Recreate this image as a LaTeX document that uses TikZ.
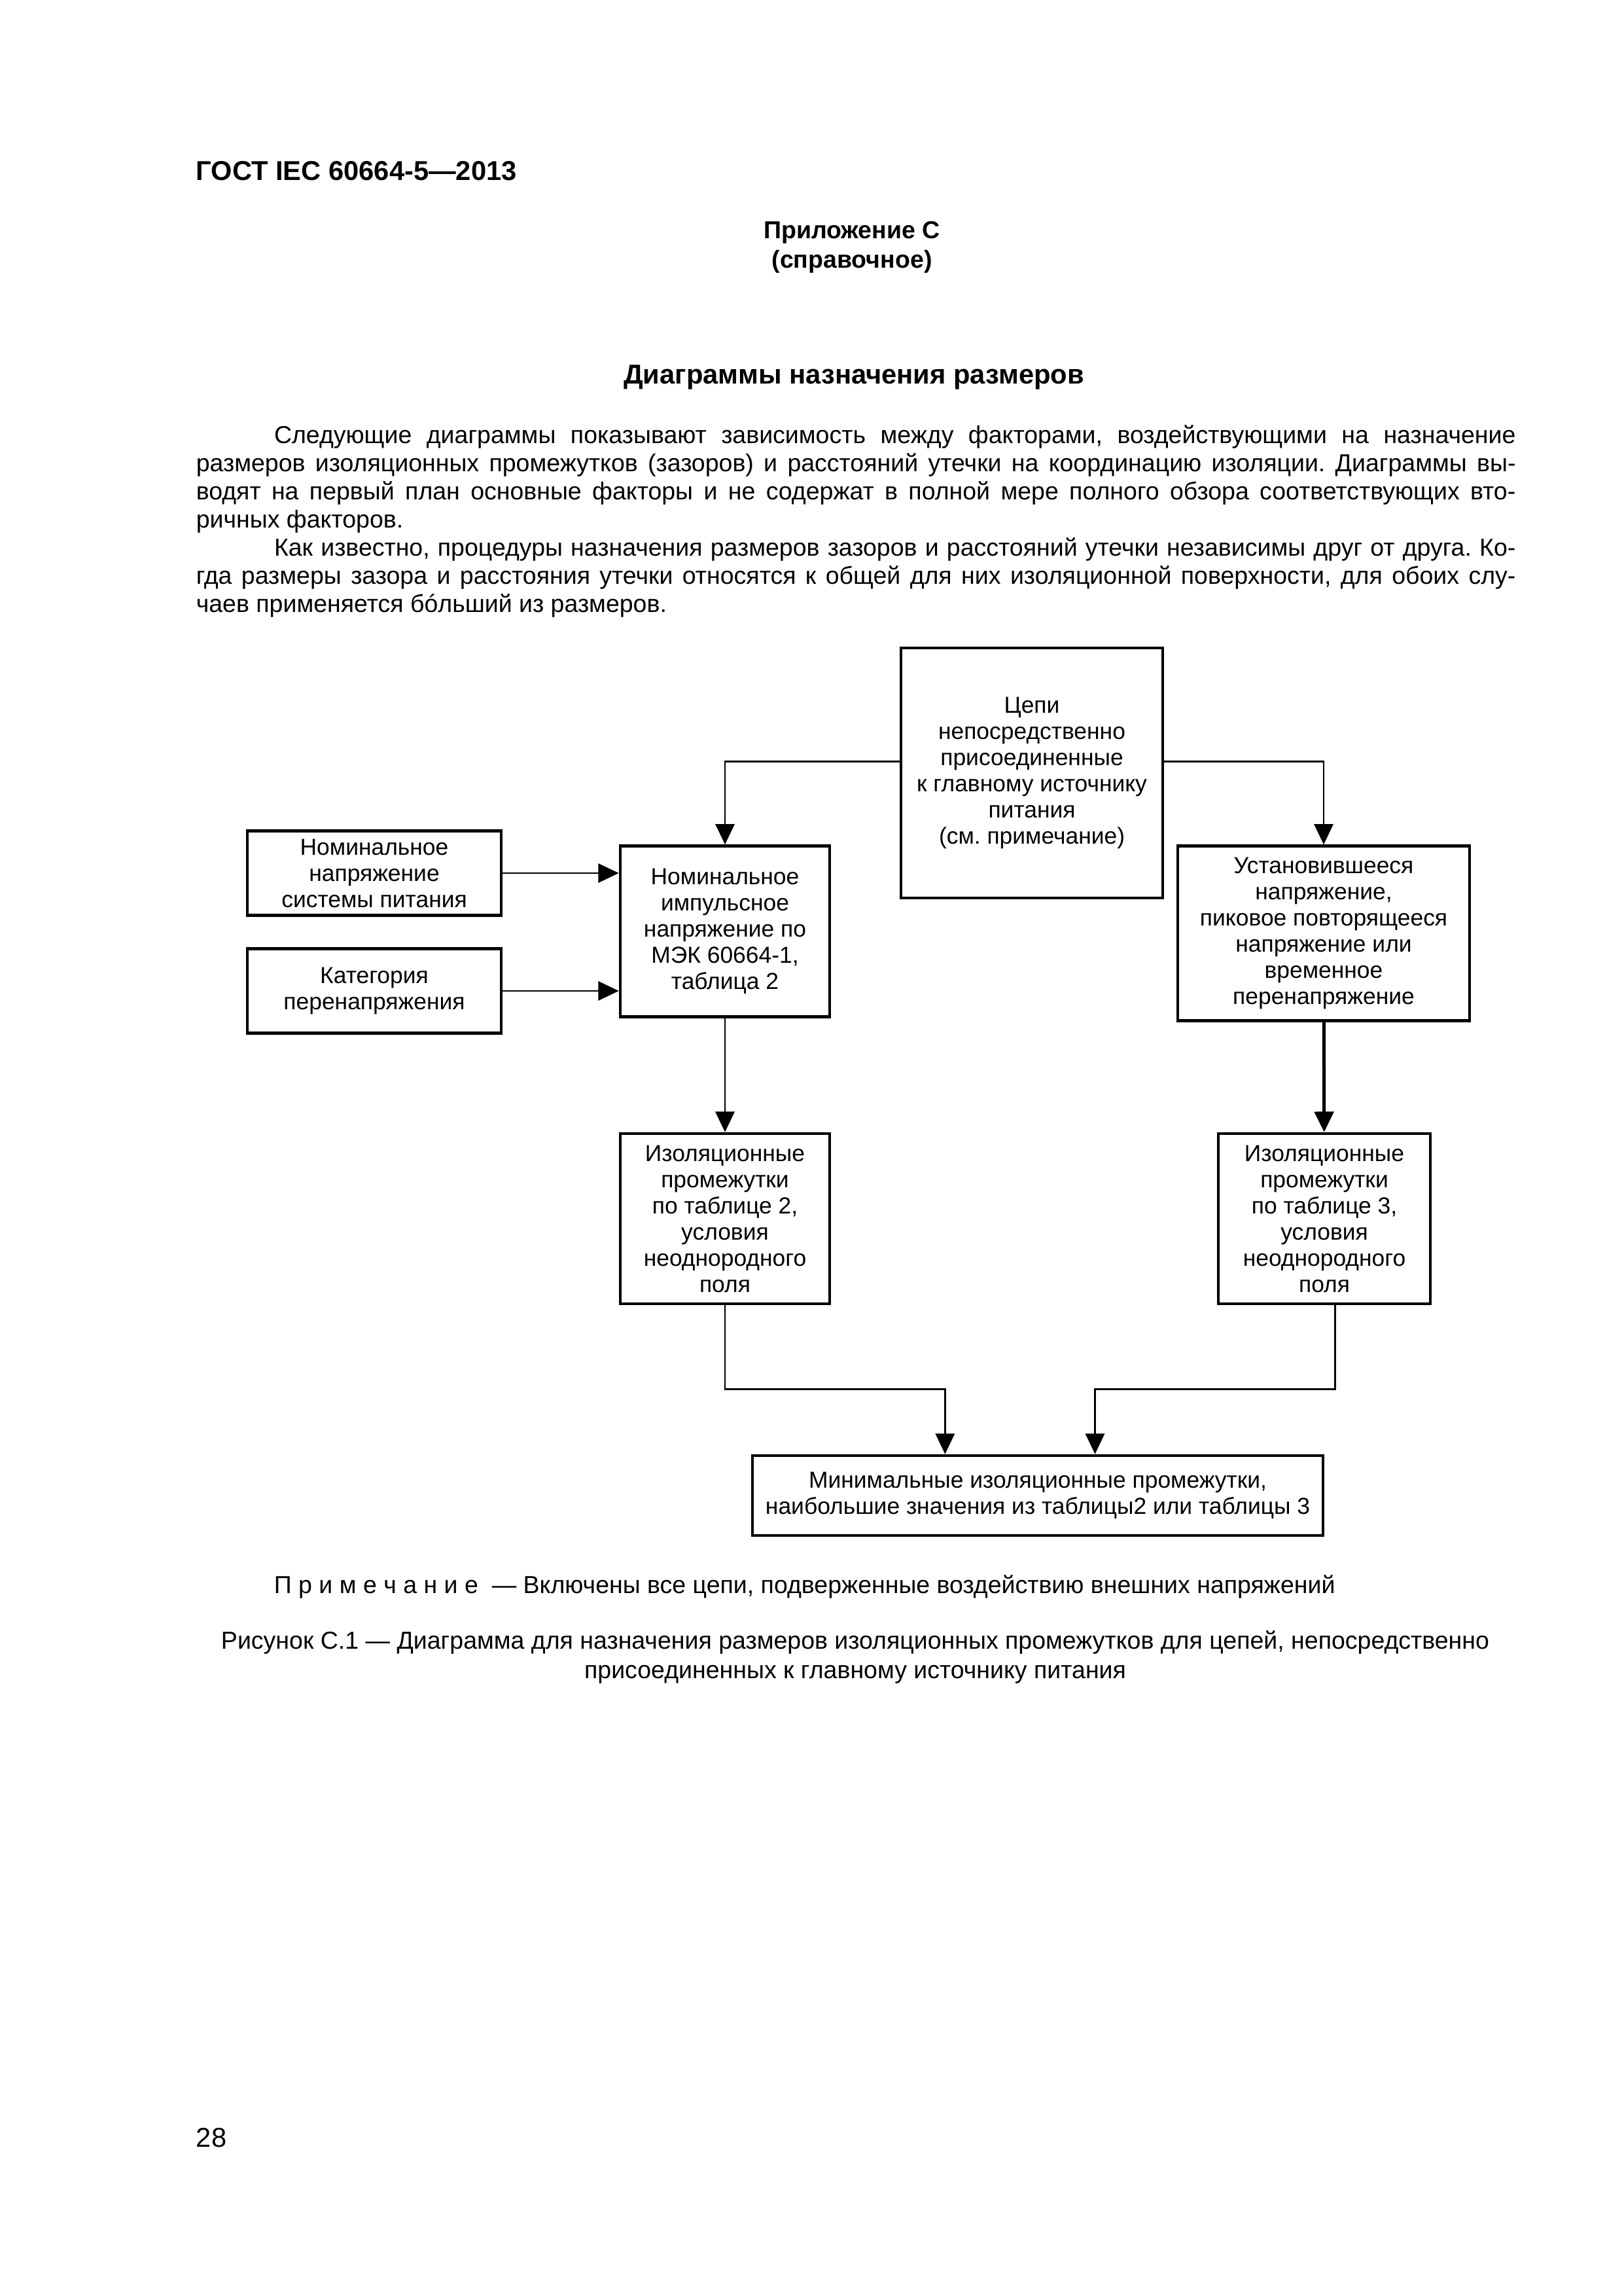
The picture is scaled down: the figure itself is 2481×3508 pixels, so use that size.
\documentclass[tikz,border=0pt]{standalone}
\usepackage{fontspec}
\setmainfont{Liberation Sans}
\usetikzlibrary{positioning, calc, arrows.meta}
\hyphenpenalty=10000
\tolerance=9999
\frenchspacing

\begin{document}
\begin{tikzpicture}[x=0.24pt, y=-0.24pt, >={Triangle[length=7.5pt, width=7pt]},
    every node/.style={inner sep=0pt, font=\fontsize{9}{10.3}\selectfont},
    box/.style={draw, line width=1.1pt, align=center, font=\fontsize{8.5}{9.6}\selectfont},
    wire/.style={line width=0.6pt},
    head/.style={font=\bfseries\fontsize{9}{12}\selectfont}]
    \useasboundingbox (0,0) rectangle (2481,3508);

    \node[head, anchor=west, font=\bfseries\fontsize{10}{12}\selectfont] (gost) at (299,261) {ГОСТ IEC 60664-5—2013};
    \node[head] (app) at (1302,355) {Приложение С};
    \node[head] (kind) at (1302,400) {(справочное)};
    \node[head, font=\bfseries\fontsize{10}{12}\selectfont] (title) at (1305,576) {Диаграммы назначения размеров};
    \node[anchor=north west, text width=484pt, align=justify] (intro) at (299,649) {%
        \hspace*{28.6pt}Следующие диаграммы показывают зависимость между факторами, воздействующими на назначение
        размеров изоляционных промежутков (зазоров) и расстояний утечки на координацию изоляции. Диаграммы вы-\linebreak
        водят на первый план основные факторы и не содержат в полной мере полного обзора соответствующих вто-\linebreak
        ричных факторов.\par
        \hspace*{28.6pt}Как известно, процедуры назначения размеров зазоров и расстояний утечки независимы друг от друга. Ко-\linebreak
        гда размеры зазора и расстояния утечки относятся к общей для них изоляционной поверхности, для обоих слу-\linebreak
        чаев применяется бóльший из размеров.};

    \node[box, minimum width=96pt, minimum height=91.7pt] (sup) at (1577,1181)
        {Цепи\\непосредственно\\присоединенные\\к главному источнику\\питания\\(см. примечание)};
    \node[box, minimum width=93.1pt, minimum height=31pt] (nom) at (572,1334)
        {Номинальное\\напряжение\\системы питания};
    \node[box, minimum width=93.1pt, minimum height=31pt] (cat) at (572,1514)
        {Категория\\перенапряжения};
    \node[box, minimum width=76.8pt, minimum height=62.6pt] (imp) at (1108,1423)
        {Номинальное\\импульсное\\напряжение по\\МЭК 60664-1,\\таблица 2};
    \node[box, minimum width=107pt, minimum height=64pt] (stead) at (2023,1426)
        {Установившееся\\напряжение,\\пиковое повторящееся\\напряжение или\\временное\\перенапряжение};
    \node[box, minimum width=76.8pt, minimum height=62.4pt] (ins2) at (1108,1862)
        {Изоляционные\\промежутки\\по таблице 2,\\условия\\неоднородного\\поля};
    \node[box, minimum width=77.8pt, minimum height=62.4pt] (ins3) at (2024,1862)
        {Изоляционные\\промежутки\\по таблице 3,\\условия\\неоднородного\\поля};
    \node[box, minimum width=209.3pt, minimum height=29.3pt] (least) at (1586,2285)
        {Минимальные изоляционные промежутки,\\наибольшие значения из таблицы2 или таблицы 3};

    \draw[wire, ->] (sup.175) -| (imp);
    \draw[wire, ->] (sup.5) -| (stead);
    \draw[wire, ->] (nom) -- (nom -| imp.west);
    \draw[wire, ->] (cat) -- (cat -| imp.west);
    \draw[wire, ->] (imp) -- (ins2);
    \draw[->, line width=1.2pt] (stead) -- (ins3);
    \draw[wire, ->] (ins2.south) -- ++(0,128) -| ([xshift=-34pt]least.north);
    \draw[wire, ->] ([xshift=4pt]ins3.south) -- ++(0,128) -| ([xshift=21pt]least.north);

    \node[anchor=west] (note) at (418,2424) {П р и м е ч а н и е \ — Включены все цепи, подверженные воздействию внешних напряжений};
    \node[align=center, font=\fontsize{9}{10.8}\selectfont] (cap) at (1307,2532)
        {Рисунок С.1 — Диаграмма для назначения размеров изоляционных промежутков для цепей, непосредственно\\присоединенных к главному источнику питания};
    \node[anchor=west, font=\fontsize{10}{12}\selectfont] (page) at (299,3266) {28};
\end{tikzpicture}
\end{document}
